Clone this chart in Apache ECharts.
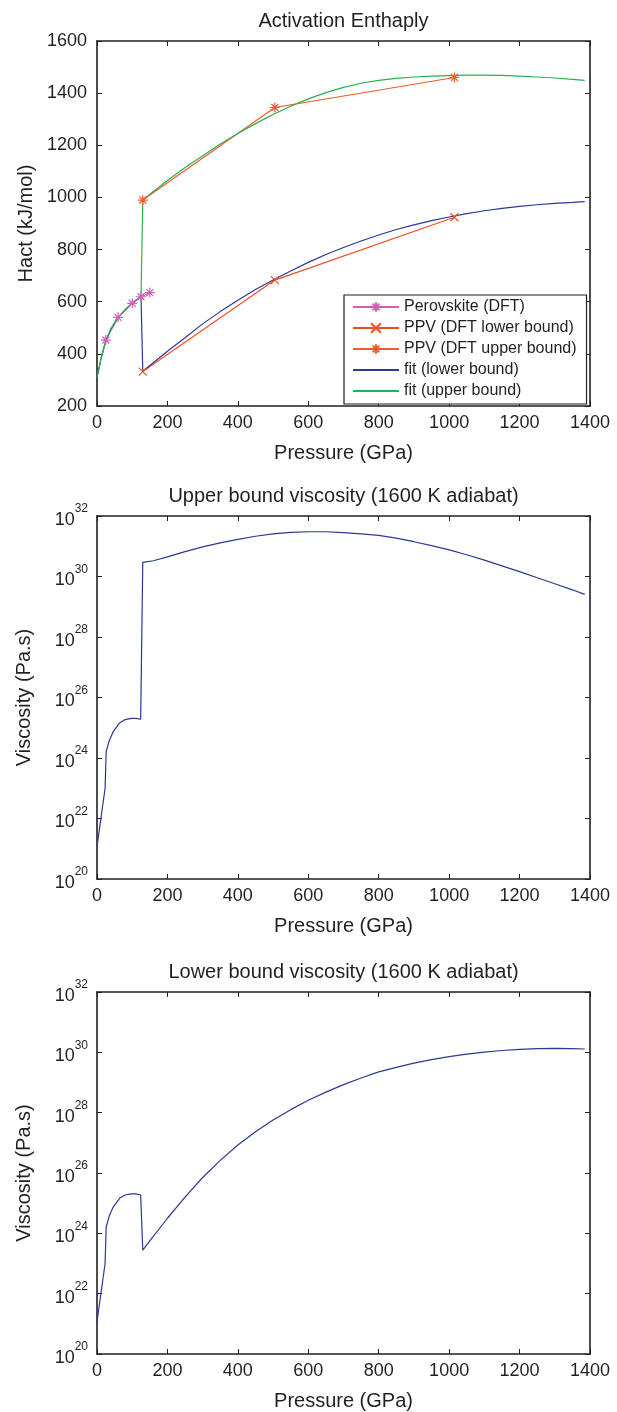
<!DOCTYPE html>
<html>
<head>
<meta charset="utf-8">
<title>Activation enthalpy and viscosity</title>
<script src="https://cdn.jsdelivr.net/npm/echarts@6/dist/echarts.min.js"></script>
<style>
  html, body { margin: 0; padding: 0; background: #fff; }
  #main { width: 617px; height: 1412px; }
</style>
</head>
<body>
<div id="main"></div>
<script>
// ---- data ----
// Activation enthalpy (kJ/mol) vs pressure (GPa)
const perovP = [25, 60, 100, 125, 150];
const perovH = [453, 540, 594, 619, 635];
const ppvP = [130, 505, 1015];
const ppvLowH = [332, 683, 924];
const ppvUpH = [990, 1345, 1460];

const fitP = [0, 12, 25, 40, 60, 80, 100, 125, 130, 150, 200, 250, 300, 350, 400, 450,
  500, 550, 600, 650, 700, 750, 800, 850, 900, 950, 1000, 1050, 1100, 1150, 1200,
  1250, 1300, 1350, 1385];
const fitLowH = [309, 385, 450, 497, 540, 569, 594, 619, 333, 355, 410, 462, 515, 562,
  606, 647, 683, 718, 751, 781, 808, 833, 856, 877, 895, 911, 925, 938, 949, 958, 966,
  972, 977, 981, 984];
const fitUpH = [309, 385, 450, 497, 540, 569, 594, 619, 990, 1012, 1065, 1115, 1160, 1205,
  1245, 1283, 1318, 1350, 1378, 1402, 1422, 1438, 1449, 1457, 1462, 1465, 1467, 1469,
  1469, 1468, 1465, 1462, 1458, 1453, 1449];

// viscosity, given as log10 (Pa.s)
const viscUpP = [0, 23, 26, 35, 46, 64, 80, 98, 110, 124, 130, 160, 200, 250, 300, 350,
  400, 450, 500, 550, 600, 650, 700, 750, 800, 850, 900, 950, 1000, 1050, 1100, 1150,
  1200, 1250, 1300, 1350, 1385];
const viscUpExp = [21.07, 23.0, 24.21, 24.58, 24.87, 25.16, 25.27, 25.31, 25.31, 25.28,
  30.47, 30.52, 30.65, 30.82, 30.98, 31.11, 31.23, 31.33, 31.41, 31.46, 31.48, 31.48,
  31.45, 31.41, 31.36, 31.27, 31.15, 31.02, 30.88, 30.72, 30.54, 30.35, 30.16, 29.96,
  29.76, 29.56, 29.41];

const viscLowP = [0, 23, 26, 35, 46, 64, 80, 98, 110, 124, 130, 150, 200, 250, 300, 350,
  400, 450, 500, 550, 600, 650, 700, 750, 800, 850, 900, 950, 1000, 1050, 1100, 1150,
  1200, 1250, 1300, 1350, 1385];
const viscLowExp = [21.07, 23.0, 24.21, 24.58, 24.87, 25.16, 25.27, 25.31, 25.31, 25.27,
  23.44, 23.75, 24.5, 25.2, 25.85, 26.42, 26.93, 27.37, 27.76, 28.1, 28.41, 28.68,
  28.93, 29.15, 29.35, 29.5, 29.64, 29.76, 29.86, 29.94, 30.01, 30.06, 30.1, 30.12,
  30.13, 30.12, 30.11];

const titles = ['Activation Enthaply', 'Upper bound viscosity (1600 K adiabat)',
  'Lower bound viscosity (1600 K adiabat)'];

// ---- helpers ----
const FONT = '"Liberation Sans", Arial, Helvetica, sans-serif';
const INK = '#231f20';
const asterisk = 'path://M5,0L5,10M0,5L10,5M1.5,1.5L8.5,8.5M8.5,1.5L1.5,8.5';
const cross = 'path://M0,0L10,10M10,0L0,10';

function pairs(xs, ys) {
  return xs.map(function (x, i) { return [x, ys[i]]; });
}
function pow10(xs, es) {
  return xs.map(function (x, i) { return [x, Math.pow(10, es[i])]; });
}
function plain(v) { return String(v); }

const axisLine = { show: true, onZero: false, lineStyle: { color: INK, width: 1.6 } };
const axisTick = { show: true, inside: true, length: 5, lineStyle: { color: INK, width: 1 } };

function xAxes(grid, title) {
  return [{
    type: 'value', gridIndex: grid, position: 'bottom', min: 0, max: 1400, interval: 200,
    name: 'Pressure (GPa)', nameLocation: 'middle', nameGap: 37,
    nameTextStyle: { fontFamily: FONT, fontSize: 20, color: INK },
    axisLine: axisLine, axisTick: axisTick, splitLine: { show: false },
    axisLabel: { fontFamily: FONT, fontSize: 18, color: INK, margin: 8, formatter: plain }
  }, {
    type: 'value', gridIndex: grid, position: 'top', min: 0, max: 1400, interval: 200,
    name: title, nameLocation: 'middle', nameGap: 10,
    nameTextStyle: { fontFamily: FONT, fontSize: 20, color: INK },
    axisLine: axisLine, axisTick: axisTick, splitLine: { show: false },
    axisLabel: { show: false }
  }];
}

function logLabel(v) {
  return '{b|10}{s|' + Math.round(Math.log10(v)) + '}';
}

const logRich = {
  b: { fontFamily: FONT, fontSize: 18, color: INK, verticalAlign: 'bottom', lineHeight: 26 },
  s: { fontFamily: FONT, fontSize: 12, color: INK, verticalAlign: 'top', lineHeight: 14 }
};

function yAxes(grid, isLog) {
  const base = isLog
    ? { type: 'log', logBase: 10, min: 1e20, max: 1e32, interval: 2, splitNumber: 6 }
    : { type: 'value', min: 200, max: 1600, interval: 200 };
  return [Object.assign({
    gridIndex: grid, position: 'left',
    name: isLog ? 'Viscosity (Pa.s)' : 'Hact (kJ/mol)', nameLocation: 'middle',
    nameGap: isLog ? 63 : 52,
    nameTextStyle: { fontFamily: FONT, fontSize: 20, color: INK },
    axisLine: axisLine, axisTick: axisTick, splitLine: { show: false },
    axisLabel: isLog
      ? { formatter: logLabel, rich: logRich, margin: 9 }
      : { fontFamily: FONT, fontSize: 18, color: INK, margin: 10, formatter: plain }
  }, base), Object.assign({
    gridIndex: grid, position: 'right',
    axisLine: axisLine, axisTick: axisTick, splitLine: { show: false },
    axisLabel: { show: false }
  }, base)];
}

function lineSeries(name, data, color, extra) {
  return Object.assign({
    name: name, type: 'line', data: data, xAxisIndex: 0, yAxisIndex: 0,
    symbol: 'none', lineStyle: { color: color, width: 1.2 },
    itemStyle: { color: color, borderColor: color, borderWidth: 1.2 },
    emphasis: { disabled: true }
  }, extra || {});
}

// ---- chart ----
const myChart = echarts.init(document.getElementById('main'));

const grids = [
  { left: 97, top: 41, width: 493, height: 365 },
  { left: 97, top: 516, width: 493, height: 363 },
  { left: 97, top: 992, width: 493, height: 364 }
];

const option = {
  animation: false,
  backgroundColor: '#fff',
  grid: grids,
  xAxis: [].concat(xAxes(0, titles[0]), xAxes(1, titles[1]), xAxes(2, titles[2])),
  yAxis: [].concat(yAxes(0, false), yAxes(1, true), yAxes(2, true)),
  legend: {
    orient: 'vertical', left: 344, top: 295,
    data: [
      'Perovskite (DFT)', 'PPV (DFT lower bound)', 'PPV (DFT upper bound)',
      { name: 'fit (lower bound)', itemStyle: { opacity: 0 } },
      { name: 'fit (upper bound)', itemStyle: { opacity: 0 } }
    ],
    backgroundColor: '#fff', borderColor: INK, borderWidth: 1.2,
    padding: [4, 10, 5, 8], itemWidth: 46, itemHeight: 12, itemGap: 5,
    textStyle: { fontFamily: FONT, fontSize: 16, color: INK }
  },
  series: [
    lineSeries('Perovskite (DFT)', pairs(perovP, perovH), '#d35fb7',
      { symbol: asterisk, symbolSize: 10 }),
    lineSeries('PPV (DFT lower bound)', pairs(ppvP, ppvLowH), '#f04e23',
      { symbol: cross, symbolSize: 8 }),
    lineSeries('PPV (DFT upper bound)', pairs(ppvP, ppvUpH), '#f15a29',
      { symbol: asterisk, symbolSize: 10 }),
    lineSeries('fit (lower bound)', pairs(fitP, fitLowH), '#2b3990'),
    lineSeries('fit (upper bound)', pairs(fitP, fitUpH), '#27b34b'),
    lineSeries('upper viscosity', pow10(viscUpP, viscUpExp), '#2b3990',
      { xAxisIndex: 2, yAxisIndex: 2 }),
    lineSeries('lower viscosity', pow10(viscLowP, viscLowExp), '#2b3990',
      { xAxisIndex: 4, yAxisIndex: 4 })
  ]
};

myChart.setOption(option);
</script>
</body>
</html>
